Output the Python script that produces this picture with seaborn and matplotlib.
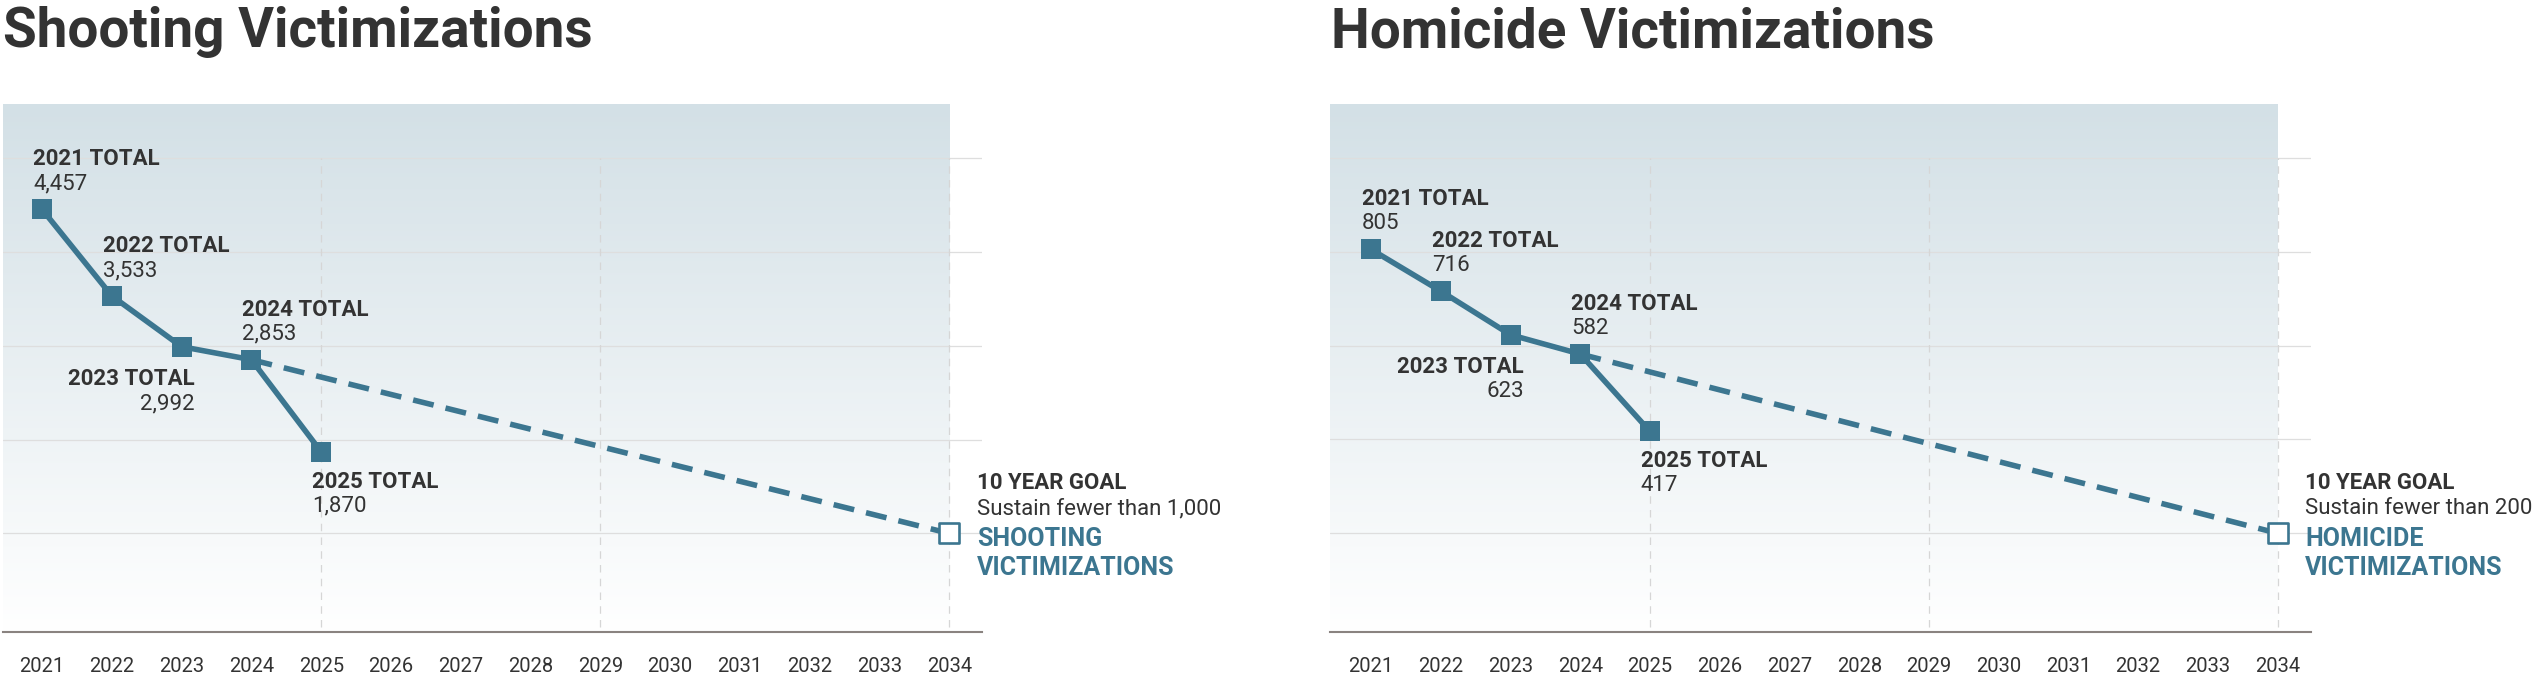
import numpy as np
import matplotlib
matplotlib.use("Agg")
import matplotlib.pyplot as plt
from matplotlib.colors import to_rgb
import seaborn as sns

# data
years = [2021, 2022, 2023, 2024, 2025]
shooting = [4457, 3533, 2992, 2853, 1870]
homicide = [805, 716, 623, 582, 417]
goal_year = 2034
shooting_goal = 1000
homicide_goal = 200
tick_years = list(range(2021, 2035))
vgrid_years = [2025, 2029, 2034]

titles = ["Shooting Victimizations", "Homicide Victimizations"]
goal_text = ["Sustain fewer than 1,000", "Sustain fewer than 200"]
goal_names = [["SHOOTING", "VICTIMIZATIONS"], ["HOMICIDE", "VICTIMIZATIONS"]]

sns.set_theme(style="white")
plt.rcParams["font.family"] = ["Roboto", "DejaVu Sans"]

TEAL = "#3c7690"
DARK = "#333333"

fig = plt.figure(figsize=(25.38, 6.82), dpi=100)
ax_l = fig.add_axes([3 / 2538, 50 / 682, 979 / 2538, 528 / 682])
ax_r = fig.add_axes([1330 / 2538, 50 / 682, 981 / 2538, 528 / 682])

panels = [
    (ax_l, shooting, shooting_goal, (2020.44, 2034.47), (-52, 5581), 1000),
    (ax_r, homicide, homicide_goal, (2020.41, 2034.48), (-10.5, 1115), 200),
]

# label placement per point: (ha, dx, bold dy, value dy) in points
above = ("left", -6.5, 31.7, 14.4)
below = ("left", -6.8, -25.9, -43.2)
below_r = ("right", 9.4, -27.5, -45.0)
placement = [above, above, below_r, above, below]

top = np.array(to_rgb("#d3e0e6"))
bot = np.array(to_rgb("#ffffff"))

for i, (ax, vals, goal, xlim, ylim, step) in enumerate(panels):
    ax.set_xlim(*xlim)
    ax.set_ylim(*ylim)

    # gradient background
    t = np.linspace(0, 1, 256)[:, None]
    grad = top * (1 - t) + bot * t
    ax.imshow(grad[:, None, :], extent=[xlim[0], goal_year, ylim[0], ylim[1]],
              aspect="auto", zorder=0, origin="upper")

    for g in range(step, step * 6, step):
        ax.axhline(g, color="#dedede", lw=0.9, zorder=1)
    ax.vlines(vgrid_years, 0, step * 5, colors="#d6d6d6", lw=0.9,
              linestyles=(0, (6, 5)), zorder=1)

    # projection to goal
    sns.lineplot(x=[years[3], goal_year], y=[vals[3], goal], ax=ax,
                 color=TEAL, linewidth=4, linestyle=(0, (3.8, 2.2)), zorder=3)
    # actuals
    sns.lineplot(x=years, y=vals, ax=ax, color=TEAL, linewidth=4, marker="s",
                 markersize=15, markeredgewidth=0, zorder=4)
    sns.scatterplot(x=[goal_year], y=[goal], ax=ax, marker="s", s=190,
                    facecolor="white", edgecolor=TEAL, linewidth=1.9, zorder=5)

    for yr, v, (ha, dx, dyb, dyv) in zip(years, vals, placement):
        ax.annotate(f"{yr} TOTAL", xy=(yr, v), xytext=(dx, dyb),
                    textcoords="offset points", ha=ha, va="baseline",
                    fontsize=16, fontweight="bold", color=DARK, zorder=6)
        ax.annotate(f"{v:,}", xy=(yr, v), xytext=(dx, dyv),
                    textcoords="offset points", ha=ha, va="baseline",
                    fontsize=16, color=DARK, zorder=6)

    kw = dict(xy=(goal_year, goal), textcoords="offset points", ha="left",
              va="baseline", annotation_clip=False)
    ax.annotate("10 YEAR GOAL", xytext=(20, 31.7), fontweight="bold",
                fontsize=16, color=DARK, **kw)
    ax.annotate(goal_text[i], xytext=(20, 13.7), fontsize=16, color=DARK, **kw)
    ax.annotate(goal_names[i][0], xytext=(20, -9.0), fontweight="bold",
                fontsize=18, color=TEAL, **kw)
    ax.annotate(goal_names[i][1], xytext=(20, -30.0), fontweight="bold",
                fontsize=18, color=TEAL, **kw)

    ax.set_xticks(tick_years)
    ax.set_xticklabels([str(y) for y in tick_years], fontsize=14.5, color=DARK)
    ax.set_yticks([])
    ax.tick_params(axis="x", length=0, pad=18)
    ax.set_xlabel("")
    ax.set_ylabel("")
    for s in ["top", "right", "left"]:
        ax.spines[s].set_visible(False)
    ax.spines["bottom"].set_color("#8a8380")
    ax.spines["bottom"].set_linewidth(1.5)
    ax.spines["bottom"].set_zorder(2)

fig.text(3 / 2538, 1 - 47 / 682, titles[0], fontsize=39.5, fontweight="bold",
         color=DARK, ha="left", va="baseline")
fig.text(1331 / 2538, 1 - 47 / 682, titles[1], fontsize=39.5, fontweight="bold",
         color=DARK, ha="left", va="baseline")

fig.savefig("out.png", dpi=100)
